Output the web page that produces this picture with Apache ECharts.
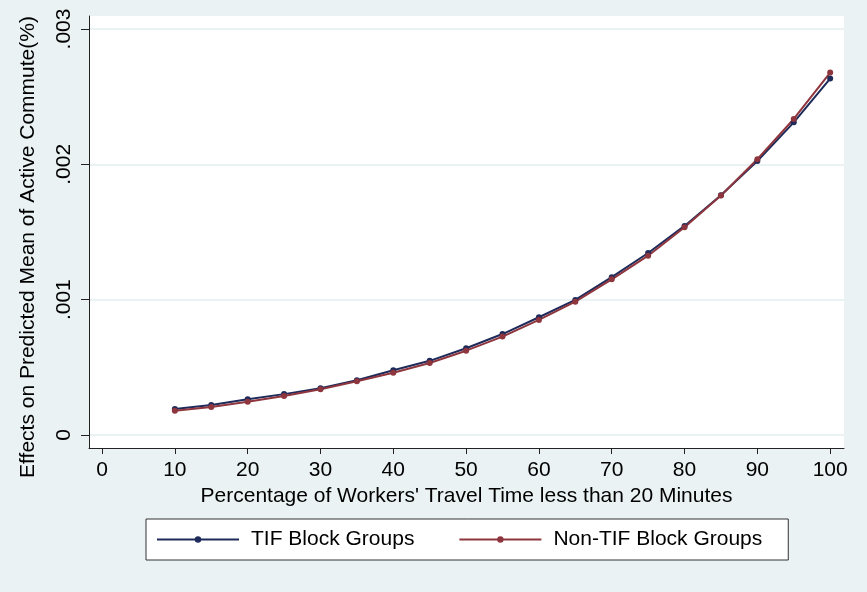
<!DOCTYPE html>
<html>
<head>
<meta charset="utf-8">
<script src="https://cdn.jsdelivr.net/npm/echarts@6/dist/echarts.min.js"></script>
<style>
html,body{margin:0;padding:0;background:#EAF2F3;}
#chart{width:867px;height:592px;}
</style>
</head>
<body>
<div id="chart"></div>
<script>
const xValues = [10,15,20,25,30,35,40,45,50,55,60,65,70,75,80,85,90,95,100];
const tifValues = [0.000192,0.000222,0.000264,0.000302,0.000346,0.000405,0.000478,0.000548,0.000641,0.000746,0.000870,0.000998,0.001166,0.001345,0.001545,0.001772,0.002025,0.002310,0.002634];
const nonTifValues = [0.000180,0.000207,0.000246,0.000288,0.000338,0.000397,0.000460,0.000532,0.000623,0.000727,0.000850,0.000985,0.001150,0.001325,0.001535,0.001770,0.002038,0.002335,0.002678];
const xTicks = [0,10,20,30,40,50,60,70,80,90,100];
const yTicks = [0,0.001,0.002,0.003];
const yTickLabels = ['0','.001','.002','.003'];
const seriesNames = ['TIF Block Groups','Non-TIF Block Groups'];

const FONT = 'Liberation Sans, Arial, sans-serif';
const chart = echarts.init(document.getElementById('chart'));
const mk = (name, vals, color) => ({
  name: name,
  type: 'line',
  data: xValues.map((x,i)=>[x, vals[i]]),
  symbol: 'circle',
  symbolSize: 6,
  lineStyle: {width: 2, color: color},
  itemStyle: {color: color},
  animation: false
});
chart.setOption({
  backgroundColor: '#EAF2F3',
  animation: false,
  grid: {left: 89, top: 16, right: 23, bottom: 144, show: true, backgroundColor: '#ffffff', borderWidth: 0, containLabel: false},
  xAxis: {
    type: 'value', min: -1.79, max: 101.9,
    name: "Percentage of Workers' Travel Time less than 20 Minutes",
    nameLocation: 'middle', nameGap: 32,
    nameTextStyle: {fontFamily: FONT, fontSize: 21, color: '#000'},
    axisLine: {show: true, onZero: false, lineStyle: {color: '#222', width: 1}},
    axisTick: {show: true, length: 6, customValues: xTicks, lineStyle: {color: '#222'}},
    axisLabel: {customValues: xTicks, fontFamily: FONT, fontSize: 21, color: '#000', margin: 12},
    splitLine: {show: false}
  },
  yAxis: {
    type: 'value', min: -0.0000961, max: 0.003096,
    name: 'Effects on Predicted Mean of Active Commute(%)',
    nameLocation: 'middle', nameGap: 50, nameRotate: 90,
    nameTextStyle: {fontFamily: FONT, fontSize: 21, color: '#000', padding: [0, 30, 0, 0]},
    axisLine: {show: true, onZero: false, lineStyle: {color: '#222', width: 1}},
    axisTick: {show: true, length: 8, customValues: yTicks, lineStyle: {color: '#222'}},
    axisLabel: {customValues: yTicks, rotate: 90, fontFamily: FONT, fontSize: 21, color: '#000', margin: 14,
      formatter: v => { const i = yTicks.findIndex(t => Math.abs(t - v) < 1e-9); return i >= 0 ? yTickLabels[i] : ''; }},
    splitLine: {show: true, lineStyle: {color: '#EAF2F3', width: 2}}
  },
  legend: {
    left: 146, top: 519,
    backgroundColor: '#ffffff', borderColor: '#333', borderWidth: 1,
    padding: [10, 26, 10, 10],
    itemWidth: 82, itemHeight: 8, itemGap: 44,
    textStyle: {fontFamily: FONT, fontSize: 21, color: '#000', padding: [0,0,0,7]},
    data: seriesNames
  },
  series: [
    mk(seriesNames[0], tifValues, '#1e2b5a'),
    mk(seriesNames[1], nonTifValues, '#8e353d')
  ]
});
</script>
</body>
</html>
